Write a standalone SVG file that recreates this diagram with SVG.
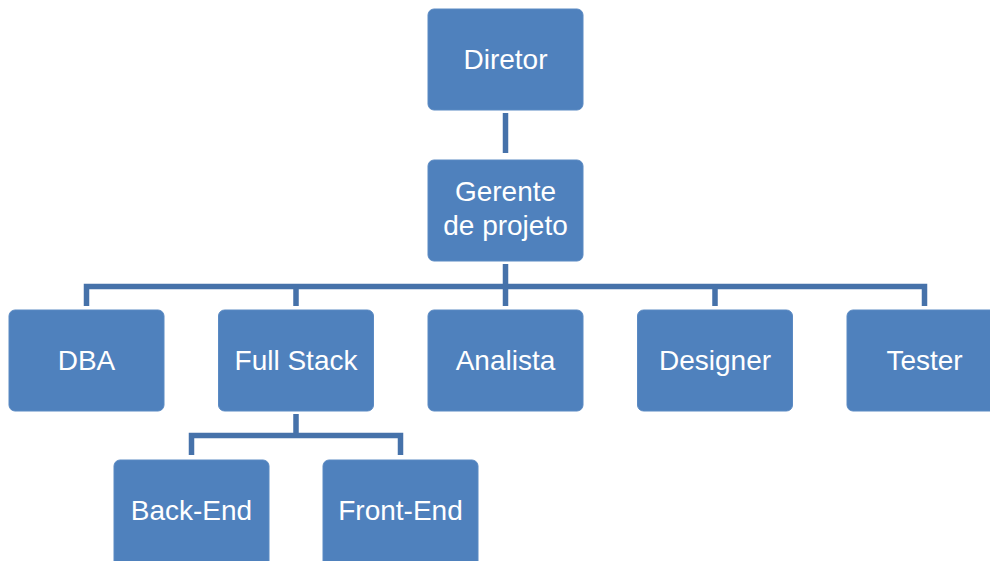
<svg xmlns="http://www.w3.org/2000/svg" width="990" height="561" viewBox="0 0 990 561">
<style>
.box{fill:#4F81BD;stroke:#5B8AC3;stroke-width:1}
.lbl{font-family:"Liberation Sans",Arial,sans-serif;font-size:28px;fill:#FFFFFF;text-anchor:middle}
.con{fill:none;stroke:#4672AA;stroke-width:5.5;stroke-linejoin:miter}
</style>
<rect width="990" height="561" fill="#FFFFFF"/>
<g id="connectors">
<line class="con" x1="505.5" y1="113" x2="505.5" y2="153" stroke="#3E6A9C"/>
<path class="con" d="M505.5 264 V286.5 M86.5 306 V286.5 H924.5 V306 M296 286.5 V306 M505.5 286.5 V306 M715 286.5 V306"/>
<path class="con" d="M296 414 V435.5 M191.5 455 V435.5 H400.5 V455"/>
</g>
<g id="n-diretor"><rect class="box" x="428" y="9" width="155" height="101" rx="6"/><text class="lbl" x="505.5" y="69">Diretor</text></g>
<g id="n-gerente"><rect class="box" x="428" y="160" width="155" height="101" rx="6"/><text class="lbl" x="505.5" y="201">Gerente</text><text class="lbl" x="505.5" y="235">de projeto</text></g>
<g id="n-dba"><rect class="box" x="9" y="310" width="155" height="101" rx="6"/><text class="lbl" x="86.5" y="370">DBA</text></g>
<g id="n-fullstack"><rect class="box" x="218.5" y="310" width="155" height="101" rx="6"/><text class="lbl" x="296" y="370">Full Stack</text></g>
<g id="n-analista"><rect class="box" x="428" y="310" width="155" height="101" rx="6"/><text class="lbl" x="505.5" y="370">Analista</text></g>
<g id="n-designer"><rect class="box" x="637.5" y="310" width="155" height="101" rx="6"/><text class="lbl" x="715" y="370">Designer</text></g>
<g id="n-tester"><rect class="box" x="847" y="310" width="155" height="101" rx="6"/><text class="lbl" x="924.5" y="370">Tester</text></g>
<g id="n-backend"><rect class="box" x="114" y="460" width="155" height="110" rx="6"/><text class="lbl" x="191.5" y="520">Back-End</text></g>
<g id="n-frontend"><rect class="box" x="323" y="460" width="155" height="110" rx="6"/><text class="lbl" x="400.5" y="520">Front-End</text></g>
</svg>
